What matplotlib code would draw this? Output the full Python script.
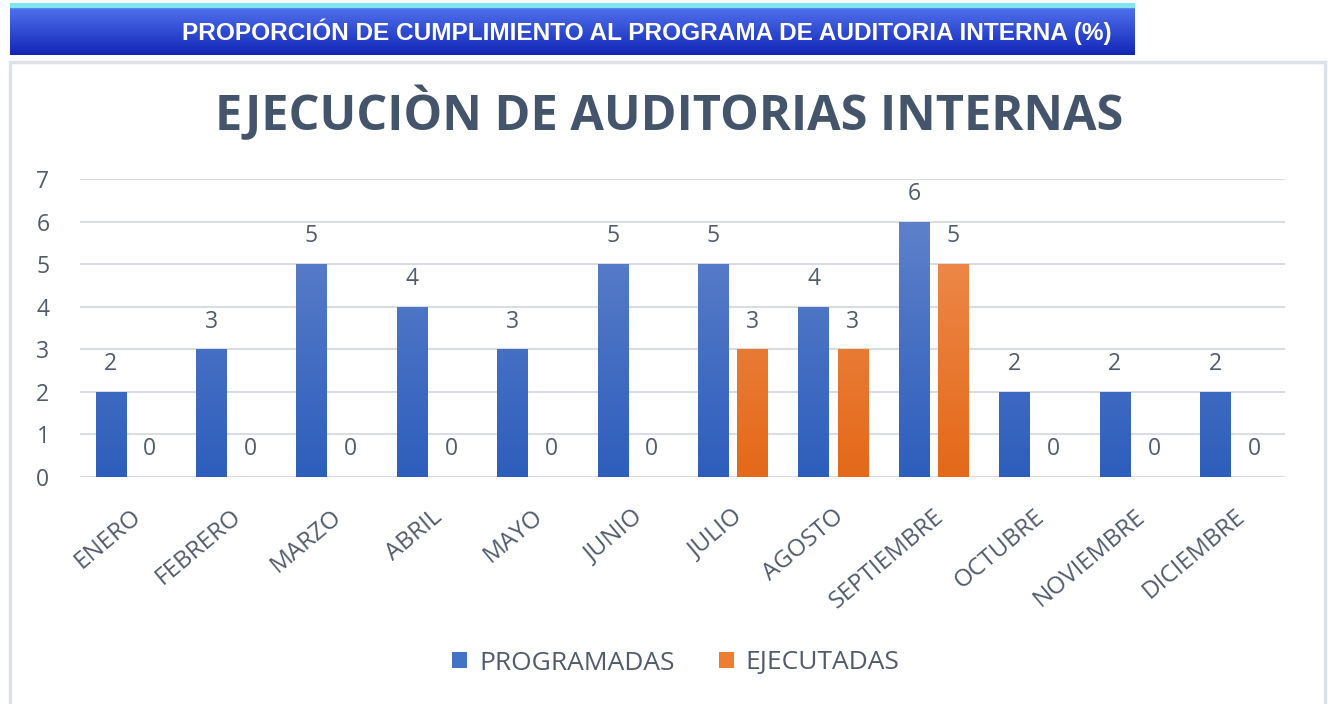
import numpy as np
import matplotlib
matplotlib.use("Agg")
import matplotlib.pyplot as plt
from matplotlib.patches import Rectangle, Patch

meses = ["ENERO", "FEBRERO", "MARZO", "ABRIL", "MAYO", "JUNIO", "JULIO",
         "AGOSTO", "SEPTIEMBRE", "OCTUBRE", "NOVIEMBRE", "DICIEMBRE"]
programadas = [2, 3, 5, 4, 3, 5, 5, 4, 6, 2, 2, 2]
ejecutadas = [0, 0, 0, 0, 0, 0, 3, 3, 5, 0, 0, 0]

W, H = 1328, 704
txt = "#505b6c"
plt.rcParams['font.family'] = ['Open Sans', 'DejaVu Sans']

fig = plt.figure(figsize=(W / 100, H / 100), dpi=100)

# header banner
bax = fig.add_axes([10 / W, 1 - 55 / H, 1125 / W, 52 / H])
top = np.array([0x55, 0x78, 0xf2]) / 255
bot = np.array([0x12, 0x26, 0xb6]) / 255
t = np.linspace(0, 1, 100)[:, None]
grad = top + (bot - top) * t
bax.imshow(grad[:, None, :].repeat(2, axis=1), aspect='auto', extent=[0, 1, 0, 1])
bax.axhspan(0.93, 1.0, color="#7fe6f0")
bax.set_xlim(0, 1)
bax.set_ylim(0, 1)
bax.axis("off")
bax.text(0.566, 0.45, "PROPORCIÓN DE CUMPLIMIENTO AL PROGRAMA DE AUDITORIA INTERNA (%)",
         color="white", fontsize=17.6, fontweight="bold", ha="center", va="center",
         family=["Liberation Sans Narrow", "Liberation Sans", "DejaVu Sans"])

# chart frame
fig.patches.append(Rectangle((10 / W, -0.01), 1315 / W, 1 - 62 / H + 0.01,
                             transform=fig.transFigure, fill=False,
                             edgecolor="#dde2ea", lw=2.5))

fig.text(669 / W, 1 - 115 / H, "EJECUCIÒN DE AUDITORIAS INTERNAS", color="#44546a",
         fontsize=35, fontweight="bold", ha="center", va="center")

ax = fig.add_axes([80 / W, 1 - 477 / H, 1205 / W, 298 / H])
x = np.arange(len(meses))
w = 0.3
off = 0.195
b1 = ax.bar(x - off, programadas, w, color="#4472c4", zorder=2)
b2 = ax.bar(x + off, ejecutadas, w, color="#ed7d31", zorder=2)


def gradient(bars, c_top, c_bot):
    c_top = np.array(matplotlib.colors.to_rgb(c_top))
    c_bot = np.array(matplotlib.colors.to_rgb(c_bot))
    g = c_top + (c_bot - c_top) * np.linspace(0, 1, 64)[:, None]
    img = g[:, None, :].repeat(2, axis=1)
    for r in bars:
        x0, y0 = r.get_x(), r.get_y()
        ww, hh = r.get_width(), r.get_height()
        if hh <= 0:
            continue
        r.set_facecolor("none")
        im = ax.imshow(img, aspect='auto', extent=[x0, x0 + ww, y0, y0 + 7], zorder=2)
        im.set_clip_path(r)


gradient(b1, "#6586cc", "#2e5ebc")
gradient(b2, "#f09258", "#e4691a")

for bars in (b1, b2):
    for r in bars:
        ax.text(r.get_x() + r.get_width() / 2, r.get_height() + 0.65, f"{int(r.get_height())}",
                ha="center", va="center", fontsize=16.5, color=txt)

ax.set_xlim(-0.5, len(meses) - 0.5)
ax.set_ylim(0, 7)
ax.set_yticks(range(8))
ax.yaxis.grid(True, color="#d9dde3", lw=1.5, zorder=0)
ax.set_axisbelow(True)
for s in ax.spines.values():
    s.set_visible(False)
ax.tick_params(axis="y", length=0, labelsize=16.5, labelcolor=txt, pad=22)
ax.tick_params(axis="x", length=0, labelcolor=txt, pad=20)
ax.set_xticks(x)
ax.set_xticklabels(meses, rotation=40, ha="right", va="top", rotation_mode="anchor", fontsize=17.5)

handles = [Patch(facecolor="#4472c4"), Patch(facecolor="#ed7d31")]
fig.legend(handles, ["PROGRAMADAS", "EJECUTADAS"], loc="center", bbox_to_anchor=(676 / W, 1 - 663 / H),
           ncol=2, frameon=False, fontsize=19, handlelength=0.55, handleheight=0.55,
           columnspacing=1.7, handletextpad=0.45, labelcolor=txt)

fig.savefig("out.png", dpi=100)
